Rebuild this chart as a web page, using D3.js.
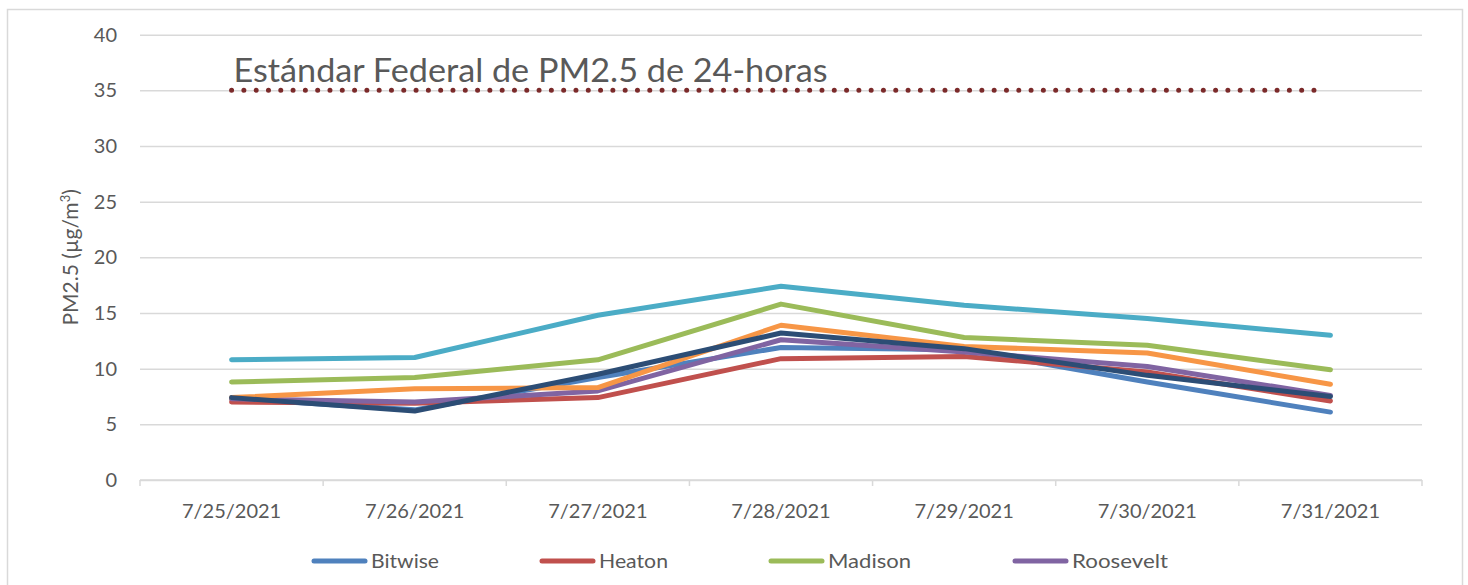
<!DOCTYPE html>
<html>
<head>
<meta charset="utf-8">
<script src="https://cdn.jsdelivr.net/npm/d3@7"></script>
<style>
  body { margin: 0; background: #fff; }
  svg { display: block; font-family: Lato, "Noto Sans", sans-serif; }
</style>
</head>
<body>
<div id="wrapper"></div>
<script>
// PM2.5 daily averages, 7/25 - 7/31 2021

const dates = ["7/25/2021", "7/26/2021", "7/27/2021", "7/28/2021", "7/29/2021", "7/30/2021", "7/31/2021"]
const yTicks = [0, 5, 10, 15, 20, 25, 30, 35, 40]
const standard = 35
const standardLabel = "Estándar Federal de PM2.5 de 24-horas"

const bitwise   = [7.3, 6.3, 9.2, 11.9, 11.7, 8.8, 6.1]
const heaton    = [7.0, 6.9, 7.4, 10.9, 11.1, 9.7, 7.1]
const madison   = [8.8, 9.2, 10.8, 15.8, 12.8, 12.1, 9.9]
const roosevelt = [7.3, 7.0, 8.0, 12.6, 11.5, 10.2, 7.6]
const series5   = [10.8, 11.0, 14.8, 17.4, 15.7, 14.5, 13.0]
const series6   = [7.4, 8.2, 8.3, 13.9, 12.0, 11.4, 8.6]
const series7   = [7.4, 6.2, 9.5, 13.2, 11.8, 9.4, 7.5]

const legendNames = ["Bitwise", "Heaton", "Madison", "Roosevelt"]

const series = [
  { values: bitwise,   color: "#4f81bd" },
  { values: heaton,    color: "#c0504d" },
  { values: madison,   color: "#9bbb59" },
  { values: roosevelt, color: "#8064a2" },
  { values: series5,   color: "#4bacc6" },
  { values: series6,   color: "#f79646" },
  { values: series7,   color: "#2c4d75" },
]

const width = 1468
const height = 585
const margin = { top: 34.7, right: 46, bottom: 105, left: 140 }
const boundedWidth = width - margin.left - margin.right
const boundedHeight = height - margin.top - margin.bottom

const svg = d3.select("#wrapper")
  .append("svg")
  .attr("width", width)
  .attr("height", height)

// chart frame
svg.append("rect")
  .attr("x", 7.5).attr("y", 9.5)
  .attr("width", 1455).attr("height", 600)
  .attr("fill", "none")
  .attr("stroke", "#d9d9d9")
  .attr("stroke-width", 1.5)

const bounds = svg.append("g")
  .attr("transform", `translate(${margin.left},${margin.top})`)

const xScale = d3.scaleBand()
  .domain(dates)
  .range([0, boundedWidth])

const yScale = d3.scaleLinear()
  .domain([0, 40])
  .range([boundedHeight, 0])

const xPos = i => xScale(dates[i]) + xScale.bandwidth() / 2

// gridlines + y labels
const yAxis = bounds.append("g")
  .call(d3.axisLeft(yScale).tickValues(yTicks).tickSize(-boundedWidth).tickPadding(23))
yAxis.select(".domain").remove()
yAxis.selectAll(".tick line").attr("stroke", "#d9d9d9").attr("stroke-width", 1.5)
yAxis.selectAll(".tick text")
  .attr("fill", "#595959")
  .style("font-size", "20px")
  .style("font-family", "Lato, sans-serif")

// x axis with ticks between categories
const xAxis = bounds.append("g")
  .attr("transform", `translate(0,${boundedHeight})`)
xAxis.append("line")
  .attr("x1", 0).attr("x2", boundedWidth)
  .attr("stroke", "#d9d9d9").attr("stroke-width", 1.5)
xAxis.selectAll(".sep")
  .data(d3.range(dates.length + 1))
  .join("line")
  .attr("x1", i => i * xScale.step())
  .attr("x2", i => i * xScale.step())
  .attr("y1", 0).attr("y2", 6)
  .attr("stroke", "#d9d9d9").attr("stroke-width", 1.5)
xAxis.selectAll(".lbl")
  .data(dates)
  .join("text")
  .attr("x", (d, i) => xPos(i))
  .attr("y", 38)
  .attr("text-anchor", "middle")
  .attr("fill", "#595959")
  .style("font-size", "20px")
  .text(d => d)

// y axis title
const yTitle = svg.append("text")
  .attr("transform", `translate(78,${margin.top + yScale(20)}) rotate(-90)`)
  .attr("text-anchor", "middle")
  .attr("fill", "#595959")
  .style("font-size", "21px")
yTitle.append("tspan").text("PM2.5 (µg/m")
yTitle.append("tspan").attr("dy", -8).style("font-size", "13px").text("3")
yTitle.append("tspan").attr("dy", 8).text(")")

// federal standard line
bounds.append("line")
  .attr("x1", xPos(0)).attr("x2", xPos(dates.length - 1) - 7)
  .attr("y1", yScale(standard)).attr("y2", yScale(standard))
  .attr("stroke", "#7b2a2a")
  .attr("stroke-width", 5)
  .attr("stroke-linecap", "round")
  .attr("stroke-dasharray", "0 12.3")

bounds.append("text")
  .attr("x", xPos(0) + 2)
  .attr("y", yScale(standard) - 8)
  .attr("fill", "#595959")
  .style("font-size", "33px")
  .attr("textLength", 594)
  .attr("lengthAdjust", "spacingAndGlyphs")
  .text(standardLabel)

// data lines
const lineGen = d3.line()
  .x((d, i) => xPos(i))
  .y(d => yScale(d))

bounds.selectAll(".series")
  .data(series)
  .join("path")
  .attr("d", d => lineGen(d.values))
  .attr("fill", "none")
  .attr("stroke", d => d.color)
  .attr("stroke-width", 5)
  .attr("stroke-linecap", "round")
  .attr("stroke-linejoin", "round")

// legend (first row only is visible)
const legendX = [312, 540, 769, 1013]
const legendW = [68, 69, 83, 96]
const items = svg.append("g")
  .selectAll("g")
  .data(legendNames)
  .join("g")
  .attr("transform", (d, i) => `translate(${legendX[i]},561)`)
items.append("line")
  .attr("x1", 2).attr("x2", 53)
  .attr("stroke", (d, i) => series[i].color)
  .attr("stroke-width", 5)
  .attr("stroke-linecap", "round")
items.append("text")
  .attr("x", 59)
  .attr("y", 7)
  .attr("fill", "#595959")
  .style("font-size", "20px")
  .attr("textLength", (d, i) => legendW[i])
  .attr("lengthAdjust", "spacingAndGlyphs")
  .text(d => d)
</script>
</body>
</html>
